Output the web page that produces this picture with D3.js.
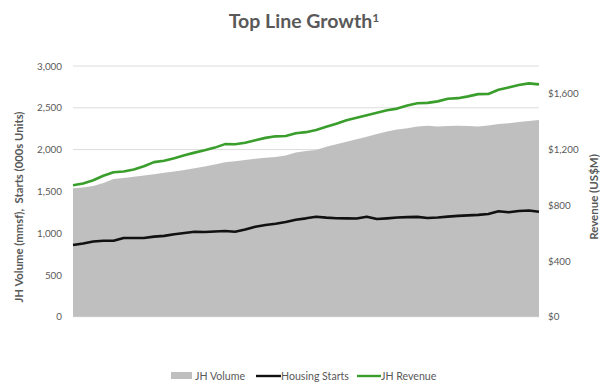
<!DOCTYPE html>
<html>
<head>
<meta charset="utf-8">
<script src="https://cdn.jsdelivr.net/npm/d3@7/dist/d3.min.js"></script>
<style>
  html, body { margin: 0; padding: 0; background: #ffffff; }
  svg { display: block; }
  text { font-family: Lato, "Open Sans", sans-serif; }
</style>
</head>
<body>
<div id="chart"></div>
<script>
// Quarterly series, oldest to newest
const jhVolume = [1536, 1547, 1564, 1600, 1648, 1660, 1675, 1691, 1705, 1723,
  1739, 1755, 1776, 1798, 1822, 1848, 1860, 1875, 1891, 1903,
  1911, 1930, 1965, 1983, 1995, 2033, 2064, 2095, 2124, 2154,
  2185, 2215, 2240, 2256, 2276, 2284, 2276, 2282, 2286, 2283,
  2276, 2288, 2306, 2315, 2330, 2342, 2354];

const housingStarts = [858, 877, 899, 909, 909, 942, 942, 942, 958, 967,
  987, 1002, 1017, 1013, 1020, 1025, 1017, 1043, 1077, 1097,
  1112, 1133, 1160, 1177, 1197, 1186, 1179, 1177, 1175, 1197,
  1169, 1177, 1187, 1191, 1195, 1181, 1187, 1198, 1207, 1213,
  1219, 1229, 1261, 1250, 1265, 1271, 1256];

const jhRevenue = [944, 957, 980, 1012, 1037, 1043, 1057, 1080, 1110, 1120,
  1138, 1159, 1178, 1195, 1214, 1239, 1238, 1249, 1267, 1284,
  1295, 1297, 1317, 1325, 1340, 1363, 1386, 1410, 1428, 1446,
  1464, 1482, 1494, 1516, 1532, 1535, 1546, 1565, 1569, 1582,
  1598, 1599, 1629, 1646, 1664, 1675, 1668];

const leftTicks = [0, 500, 1000, 1500, 2000, 2500, 3000];
const rightTicks = [0, 400, 800, 1200, 1600];

const seriesNames = ["JH Volume", "Housing Starts", "JH Revenue"];
const colors = { volume: "#bfbfbf", starts: "#111111", revenue: "#3a9e2c" };

const W = 605, H = 385;
const plot = { left: 73, right: 539, top: 66, bottom: 316.7 };

const svg = d3.select("#chart").append("svg")
  .attr("width", W).attr("height", H);

const x = d3.scaleLinear()
  .domain([0, jhVolume.length - 1])
  .range([plot.left, plot.right]);

const yLeft = d3.scaleLinear().domain([0, 3000]).range([plot.bottom, plot.top]);
const yRight = d3.scaleLinear().domain([0, 1800]).range([plot.bottom, plot.top]);

// Title
const title = svg.append("text")
  .attr("x", 304).attr("y", 28)
  .attr("text-anchor", "middle")
  .attr("font-size", 19.5).attr("font-weight", 700)
  .attr("fill", "#595959");
title.append("tspan").text("Top Line Growth");
title.append("tspan").attr("dy", -6).attr("font-size", 12).text("1");

// Horizontal gridlines
svg.append("g")
  .selectAll("line")
  .data(leftTicks)
  .join("line")
  .attr("x1", plot.left).attr("x2", plot.right)
  .attr("y1", d => yLeft(d)).attr("y2", d => yLeft(d))
  .attr("stroke", "#dcdcdc").attr("stroke-width", 1);

// JH volume area
const area = d3.area()
  .x((d, i) => x(i))
  .y0(yLeft(0))
  .y1(d => yLeft(d));

svg.append("path")
  .datum(jhVolume)
  .attr("d", area)
  .attr("fill", colors.volume);

// Housing starts line
const lineLeft = d3.line().x((d, i) => x(i)).y(d => yLeft(d));
svg.append("path")
  .datum(housingStarts)
  .attr("d", lineLeft)
  .attr("fill", "none")
  .attr("stroke", colors.starts)
  .attr("stroke-width", 2.6)
  .attr("stroke-linejoin", "round");

// JH revenue line (right axis)
const lineRight = d3.line().x((d, i) => x(i)).y(d => yRight(d));
svg.append("path")
  .datum(jhRevenue)
  .attr("d", lineRight)
  .attr("fill", "none")
  .attr("stroke", colors.revenue)
  .attr("stroke-width", 2.6)
  .attr("stroke-linejoin", "round");

// Left axis
const axL = svg.append("g")
  .attr("transform", `translate(${plot.left - 8},0)`)
  .call(d3.axisLeft(yLeft).tickValues(leftTicks).tickSize(0).tickPadding(3)
    .tickFormat(d3.format(",")));
axL.select(".domain").remove();
axL.selectAll("text")
  .attr("font-family", "Lato, 'Open Sans', sans-serif")
  .attr("font-size", 9.8).attr("fill", "#595959");

// Right axis
const axR = svg.append("g")
  .attr("transform", `translate(${plot.right + 6},0)`)
  .call(d3.axisRight(yRight).tickValues(rightTicks).tickSize(0).tickPadding(3)
    .tickFormat(d => "$" + d3.format(",")(d)));
axR.select(".domain").remove();
axR.selectAll("text")
  .attr("font-family", "Lato, 'Open Sans', sans-serif")
  .attr("font-size", 9.8).attr("fill", "#595959");

// Axis titles
svg.append("text")
  .attr("transform", "translate(23,207) rotate(-90)")
  .attr("text-anchor", "middle")
  .attr("font-family", "'Open Sans', sans-serif")
  .attr("font-size", 11.3).attr("font-weight", 700)
  .attr("fill", "#595959")
  .attr("xml:space", "preserve")
  .text("JH Volume (mmsf),  Starts (000s Units)");

svg.append("text")
  .attr("transform", "translate(598,197) rotate(-90)")
  .attr("text-anchor", "middle")
  .attr("font-family", "'Open Sans', sans-serif")
  .attr("font-size", 11.5).attr("font-weight", 700)
  .attr("fill", "#595959")
  .text("Revenue (US$M)");

// Legend
const legend = svg.append("g").attr("font-size", 10.6).attr("fill", "#595959");
const legY = 376;

legend.append("rect")
  .attr("x", 171).attr("y", legY - 4).attr("width", 21).attr("height", 7)
  .attr("fill", colors.volume);
legend.append("text").attr("x", 195).attr("y", legY + 3.5).text(seriesNames[0]);

legend.append("line")
  .attr("x1", 256).attr("x2", 281).attr("y1", legY).attr("y2", legY)
  .attr("stroke", colors.starts).attr("stroke-width", 2.4);
legend.append("text").attr("x", 281).attr("y", legY + 3.5).text(seriesNames[1]);

legend.append("line")
  .attr("x1", 357).attr("x2", 381).attr("y1", legY).attr("y2", legY)
  .attr("stroke", colors.revenue).attr("stroke-width", 2.4);
legend.append("text").attr("x", 381).attr("y", legY + 3.5).text(seriesNames[2]);
</script>
</body>
</html>
